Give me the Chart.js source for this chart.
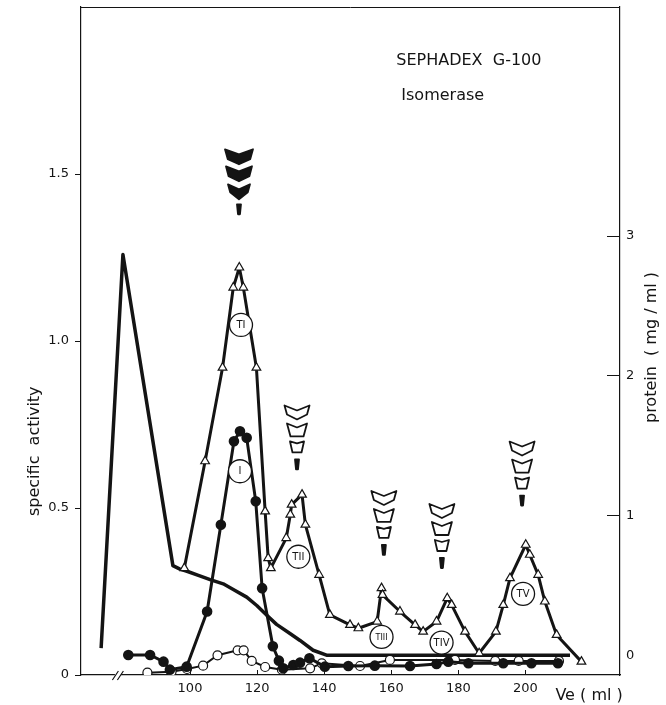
<!DOCTYPE html>
<html>
<head>
<meta charset="utf-8">
<script src="https://cdn.jsdelivr.net/npm/chart.js@4.4.1/dist/chart.umd.min.js"></script>
<style>
    html, body { margin: 0; padding: 0; background: #fff; }
</style>
</head>
<body>
<canvas id="gelChart" width="666" height="705"></canvas>
<script>
// elution volume (ml) / readings off the column
const triVe = [98.3, 104.5, 109.7, 112.9, 114.7, 115.9, 119.8, 122.4, 123.3, 124.1, 128.7, 129.9, 130.3, 133.4, 134.4, 138.5, 141.7, 147.7, 150.2, 155.8, 157.1, 157.4, 162.6, 167.1, 169.5, 173.5, 176.7, 178.0, 182.0, 186.2, 191.2, 193.4, 195.4, 200.1, 201.3, 203.8, 205.8, 209.3, 216.7];
const triAct = [0.32, 0.64, 0.92, 1.16, 1.22, 1.16, 0.92, 0.49, 0.35, 0.32, 0.41, 0.48, 0.51, 0.54, 0.45, 0.30, 0.18, 0.15, 0.14, 0.16, 0.26, 0.24, 0.19, 0.15, 0.13, 0.16, 0.23, 0.21, 0.13, 0.065, 0.13, 0.21, 0.29, 0.39, 0.36, 0.30, 0.22, 0.12, 0.04];

const dotVe = [81.6, 88.1, 92.1, 94.0, 99.0, 105.1, 109.2, 113.1, 114.9, 116.9, 119.6, 121.5, 124.7, 126.5, 127.8, 130.8, 132.8, 135.6, 140.2, 147.2, 155.1, 165.6, 173.5, 177.0, 183.0, 193.4, 201.8, 209.7];
const dotAct = [0.06, 0.06, 0.04, 0.016, 0.025, 0.19, 0.45, 0.70, 0.73, 0.71, 0.52, 0.26, 0.086, 0.043, 0.02, 0.03, 0.037, 0.05, 0.025, 0.027, 0.028, 0.027, 0.033, 0.04, 0.035, 0.035, 0.035, 0.035];

const openVe = [87.3, 94.5, 99.1, 103.9, 108.2, 114.2, 116.0, 118.4, 122.4, 127.4, 135.8, 139.3, 150.7, 159.6, 179.0, 191.0, 198.0, 210.0];
const openAct = [0.007, 0.01, 0.018, 0.028, 0.059, 0.074, 0.074, 0.042, 0.024, 0.016, 0.02, 0.035, 0.027, 0.045, 0.045, 0.042, 0.042, 0.042];

const protVe = [73.5, 80.0, 94.9, 97.0, 99.1, 102.5, 106.0, 109.9, 112.9, 116.9, 119.9, 122.9, 125.8, 129.8, 132.8, 136.7, 140.7, 146.2, 213.3];
const protConc = [0.05, 2.865, 0.64, 0.615, 0.60, 0.57, 0.54, 0.51, 0.47, 0.415, 0.355, 0.285, 0.22, 0.155, 0.105, 0.035, 0.0, 0.0, 0.0];

// axis ticks
const veTicks = [100, 120, 140, 160, 180, 200];
const actTicks = [0, 0.5, 1.0, 1.5];
const protTicks = [0, 1, 2, 3];

// peak labels (circled) and the arrow stacks above peaks
const peakNames = ['TI', 'I', 'TII', 'TIII', 'TIV', 'TV'];
const peakVe = [115.2, 114.9, 132.3, 157.1, 175.0, 199.3];
const peakAct = [1.048, 0.61, 0.354, 0.114, 0.097, 0.243];

const arrowVe = [114.6, 131.9, 157.8, 175.1, 199.0];
const arrowAct = [1.574, 0.807, 0.551, 0.512, 0.699];
const arrowFilled = [true, false, false, false, false];

const ink = '#141414';
const font = 'DejaVu Sans, Liberation Sans, sans-serif';

const pts = (xs, ys) => xs.map((x, i) => ({ x: x, y: ys[i] }));

function shape(ctx, cx, y, w, h, notch, point, bw, filled) {
    ctx.beginPath();
    ctx.moveTo(cx - w / 2, y);
    ctx.lineTo(cx, y + notch);
    ctx.lineTo(cx + w / 2, y);
    if (point > 0) {
        ctx.lineTo(cx + w * 0.4, y + h - point);
        ctx.lineTo(cx, y + h);
        ctx.lineTo(cx - w * 0.4, y + h - point);
    } else {
        ctx.lineTo(cx + bw / 2, y + h);
        ctx.lineTo(cx - bw / 2, y + h);
    }
    ctx.closePath();
    if (filled) ctx.fill();
    ctx.stroke();
}

const decor = {
    id: 'decor',
    afterDraw(chart) {
        const { ctx, chartArea: a, scales } = chart;
        const xs = scales.x, ya = scales.yAct, yp = scales.yProt;
        ctx.save();
        ctx.strokeStyle = ink;
        ctx.fillStyle = ink;
        ctx.lineWidth = 1;

        // top of the frame
        ctx.beginPath();
        ctx.moveTo(a.left, a.top + 0.5);
        ctx.lineTo(a.right, a.top + 0.5);
        ctx.stroke();

        // inward ticks, bottom and right
        ctx.beginPath();
        veTicks.forEach(v => {
            const px = Math.round(xs.getPixelForValue(v)) + 0.5;
            ctx.moveTo(px, a.bottom);
            ctx.lineTo(px, a.bottom - 5);
        });
        protTicks.slice(1).forEach(v => {
            const py = Math.round(yp.getPixelForValue(v)) + 0.5;
            ctx.moveTo(a.right - 13, py);
            ctx.lineTo(a.right, py);
        });
        ctx.stroke();

        // axis break
        const bx = xs.getPixelForValue(78.5);
        ctx.fillStyle = '#fff';
        ctx.fillRect(bx - 3, a.bottom - 2, 6, 5);
        ctx.fillStyle = ink;
        ctx.lineWidth = 1.2;
        ctx.beginPath();
        [-2.5, 2.5].forEach(d => {
            ctx.moveTo(bx + d - 3, a.bottom + 5);
            ctx.lineTo(bx + d + 3, a.bottom - 4);
        });
        ctx.stroke();

        // circled peak names
        ctx.lineWidth = 1.3;
        ctx.textAlign = 'center';
        ctx.textBaseline = 'middle';
        peakNames.forEach((n, i) => {
            const px = xs.getPixelForValue(peakVe[i]);
            const py = ya.getPixelForValue(peakAct[i]);
            ctx.fillStyle = '#fff';
            ctx.beginPath();
            ctx.arc(px, py, 11.5, 0, Math.PI * 2);
            ctx.fill();
            ctx.stroke();
            ctx.fillStyle = ink;
            ctx.font = (n.length > 3 ? '8px ' : '10px ') + font;
            ctx.fillText(n, px, py + 0.5);
        });

        // arrow stacks
        ctx.lineWidth = 1.8;
        ctx.lineJoin = 'round';
        arrowVe.forEach((v, i) => {
            const cx = xs.getPixelForValue(v);
            const top = ya.getPixelForValue(arrowAct[i]);
            const f = arrowFilled[i];
            if (f) {
                shape(ctx, cx, top, 28, 15, 5, 5, 0, true);
                shape(ctx, cx, top + 17, 26, 15, 5, 5, 0, true);
                shape(ctx, cx, top + 35, 22, 15, 5, 7, 0, true);
                shape(ctx, cx, top + 55, 4, 10, 0, 0, 2, true);
            } else {
                shape(ctx, cx, top, 25, 14, 5, 5, 0, false);
                shape(ctx, cx, top + 18, 20, 13, 4, 0, 13, false);
                shape(ctx, cx, top + 36, 14, 11, 2, 0, 9, false);
                shape(ctx, cx, top + 54, 4, 10, 0, 0, 2, true);
            }
        });

        // titles and axis names
        ctx.fillStyle = ink;
        ctx.textAlign = 'left';
        ctx.textBaseline = 'alphabetic';
        ctx.font = '16px ' + font;
        ctx.fillText('SEPHADEX  G-100', xs.getPixelForValue(161.5), ya.getPixelForValue(1.826));
        ctx.fillText('Isomerase', xs.getPixelForValue(163.0), ya.getPixelForValue(1.722));

        ctx.font = '16px ' + font;
        ctx.fillText('Ve ( ml )', xs.getPixelForValue(200) + 30, a.bottom + 25);

        ctx.textAlign = 'center';
        ctx.textBaseline = 'middle';
        ctx.save();
        ctx.translate(a.left - 46, ya.getPixelForValue(0.67));
        ctx.rotate(-Math.PI / 2);
        ctx.fillText('specific  activity', 0, 0);
        ctx.restore();

        ctx.save();
        ctx.translate(a.right + 32, yp.getPixelForValue(2.2));
        ctx.rotate(-Math.PI / 2);
        ctx.fillText('protein  ( mg / ml )', 0, 0);
        ctx.restore();

        ctx.restore();
    }
};

const noPadY = s => { s.paddingTop = 0; s.paddingBottom = 0; };

const ctx = document.getElementById('gelChart').getContext('2d');
new Chart(ctx, {
    type: 'line',
    data: {
        datasets: [
            {
                label: 'protein',
                data: pts(protVe, protConc),
                yAxisID: 'yProt',
                borderColor: ink,
                borderWidth: 3.5,
                borderJoinStyle: 'round',
                pointRadius: 0,
                tension: 0,
                order: 4
            },
            {
                label: 'open circles',
                data: pts(openVe, openAct),
                yAxisID: 'yAct',
                borderColor: ink,
                borderWidth: 2,
                pointRadius: 4.5,
                pointBackgroundColor: '#fff',
                pointBorderColor: ink,
                pointBorderWidth: 1.2,
                tension: 0,
                order: 3
            },
            {
                label: 'filled circles',
                data: pts(dotVe, dotAct),
                yAxisID: 'yAct',
                borderColor: ink,
                borderWidth: 3,
                pointRadius: 3.8,
                pointBackgroundColor: ink,
                pointBorderColor: ink,
                tension: 0,
                order: 2
            },
            {
                label: 'triangles',
                data: pts(triVe, triAct),
                yAxisID: 'yAct',
                borderColor: ink,
                borderWidth: 3,
                borderJoinStyle: 'round',
                pointStyle: 'triangle',
                pointRadius: 5,
                pointBackgroundColor: '#fff',
                pointBorderColor: ink,
                pointBorderWidth: 1.2,
                tension: 0,
                order: 1
            }
        ]
    },
    options: {
        responsive: false,
        animation: false,
        layout: { padding: { top: 1, left: 0, right: 0, bottom: 0 } },
        plugins: {
            legend: { display: false },
            tooltip: { enabled: false }
        },
        scales: {
            x: {
                type: 'linear',
                min: 67.5,
                max: 228.2,
                afterBuildTicks: s => { s.ticks = veTicks.map(v => ({ value: v })); },
                afterFit: s => { s.height = 30; s.paddingLeft = 0; s.paddingRight = 0; },
                ticks: { color: ink, font: { family: font, size: 13 }, padding: 6 },
                grid: { display: true, drawOnChartArea: false, drawTicks: false },
                border: { display: true, color: ink, width: 1.2 }
            },
            yAct: {
                type: 'linear',
                position: 'left',
                min: 0,
                max: 2.0,
                afterBuildTicks: s => { s.ticks = actTicks.map(v => ({ value: v })); },
                afterFit: s => { s.width = 81; noPadY(s); },
                ticks: {
                    color: ink,
                    font: { family: font, size: 13 },
                    padding: 6,
                    callback: v => v === 0 ? '0' : v.toFixed(1)
                },
                grid: { display: true, drawOnChartArea: false, drawTicks: true, tickLength: 6, color: ink },
                border: { display: true, color: ink, width: 1.2 }
            },
            yProt: {
                type: 'linear',
                position: 'right',
                min: -0.142,
                max: 4.635,
                afterBuildTicks: s => { s.ticks = protTicks.map(v => ({ value: v })); },
                afterFit: s => { s.width = 46; noPadY(s); },
                ticks: { color: ink, font: { family: font, size: 13 }, padding: 6 },
                grid: { display: true, drawOnChartArea: false, drawTicks: false },
                border: { display: true, color: ink, width: 1.2 }
            }
        }
    },
    plugins: [decor]
});
</script>
</body>
</html>
